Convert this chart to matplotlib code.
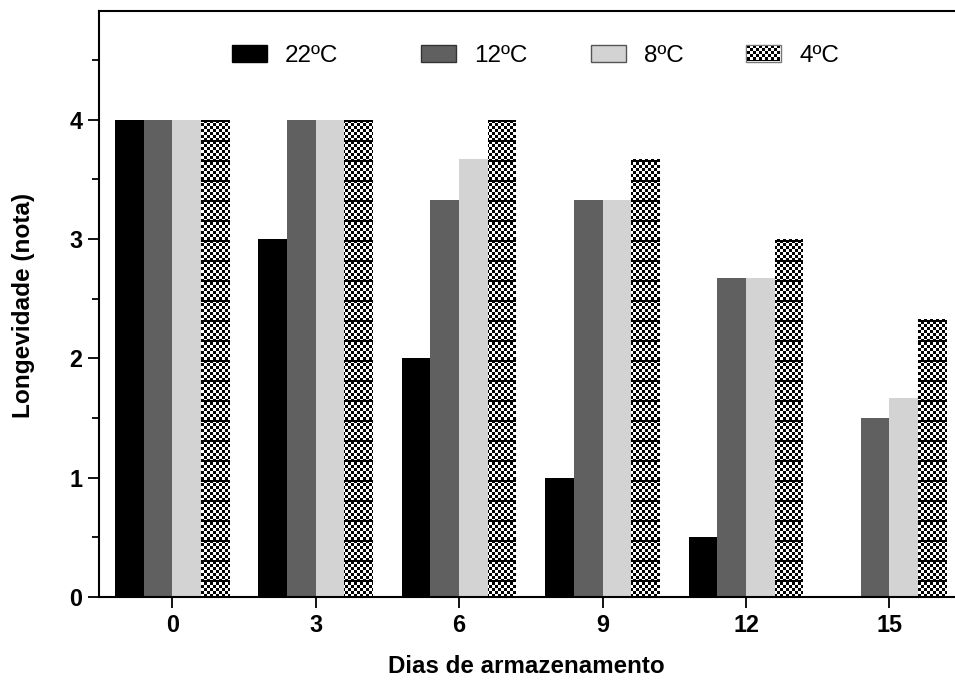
import matplotlib
matplotlib.use("Agg")
import matplotlib.pyplot as plt
import numpy as np
from matplotlib.ticker import MultipleLocator

plt.rcParams['font.family'] = ['Liberation Sans', 'DejaVu Sans']

days = ['0', '3', '6', '9', '12', '15']
series = ['22ºC', '12ºC', '8ºC', '4ºC']
v22 = [4, 3, 2, 1, 0.5, 0]
v12 = [4, 4, 3.33, 3.33, 2.67, 1.5]
v8 = [4, 4, 3.67, 3.33, 2.67, 1.67]
v4 = [4, 4, 4, 3.67, 3, 2.33]

values = [v22, v12, v8, v4]
colors = ['#000000', '#606060', '#d3d3d3', '#ffffff']
edge_leg = ['#000000', '#333333', '#555555', '#777777']
patterned = [False, False, False, True]

W, H, DPI = 955, 680, 100
fig = plt.figure(figsize=(W / DPI, H / DPI), dpi=DPI)
ax = fig.add_axes([0.1037, 0.122, 0.8953, 0.862])

x = np.arange(len(days))
w = 0.2
containers = []
for i, (vals, c, lab) in enumerate(zip(values, colors, series)):
    bc = ax.bar(x + (i - 1.5) * w, vals, w, color=c, linewidth=0, label=lab)
    containers.append(bc)

ax.set_xlim(-0.51, 5.45)
ax.set_ylim(0, 4.91)
ax.set_xticks(x)
ax.set_xticklabels(days)
ax.yaxis.set_major_locator(MultipleLocator(1))
ax.yaxis.set_minor_locator(MultipleLocator(0.5))
ax.tick_params(axis='both', which='major', length=8, width=1.3, labelsize=16.8, pad=4)
ax.tick_params(axis='y', which='minor', length=5, width=1.3)
for lab in ax.get_xticklabels() + ax.get_yticklabels():
    lab.set_fontweight('bold')

for s in ['left', 'bottom', 'top']:
    ax.spines[s].set_linewidth(1.5)
ax.spines['right'].set_visible(False)

ax.set_xlabel('Dias de armazenamento', fontsize=17.4, fontweight='bold')
ax.xaxis.label.set_va('baseline')
ax.xaxis.set_label_coords(0.5, -0.129)
ax.set_ylabel('Longevidade (nota)', fontsize=17.6, fontweight='bold')
ax.yaxis.set_label_coords(-0.0749, 0.498)

# legends, one entry each
leg_x = [232, 421, 591, 746]
legends = []
for bc, lab, ex, lx in zip(containers, series, edge_leg, leg_x):
    lg = fig.legend([bc], [lab], loc='center left',
                    bbox_to_anchor=(lx / W, (H - 56) / H),
                    frameon=False, fontsize=17.5, borderpad=0, borderaxespad=0,
                    handlelength=1.44, handleheight=0.72, handletextpad=0.75)
    p = lg.get_patches()[0]
    p.set_edgecolor(ex)
    p.set_linewidth(1.0)
    legends.append(lg)

# checker fill pattern over figure pixel grid
sq = 3
yy, xx = np.mgrid[0:H, 0:W]
checker = (((xx // sq) + (yy // sq)) % 2).astype(float)
checker[(yy % 20) < 2] = 0.0

fig.canvas.draw()
r = fig.canvas.get_renderer()

def stamp(bb, shrink_bottom=0, inset=0):
    x0 = int(round(bb.x0)) + inset; x1 = int(round(bb.x1)) - inset
    y0 = int(round(bb.y0)) + shrink_bottom + inset; y1 = int(round(bb.y1)) - inset
    if x1 <= x0 or y1 <= y0:
        return
    sub = checker[H - y1:H - y0, x0:x1]
    fig.figimage(sub, xo=x0, yo=y0, origin='upper', cmap='gray',
                 vmin=0, vmax=1, zorder=8)

for i, bc in enumerate(containers):
    if patterned[i]:
        for bar in bc.patches:
            stamp(bar.get_window_extent(r), shrink_bottom=1)
stamp(legends[3].get_patches()[0].get_window_extent(r), inset=1)

fig.savefig('out.png', dpi=DPI)
